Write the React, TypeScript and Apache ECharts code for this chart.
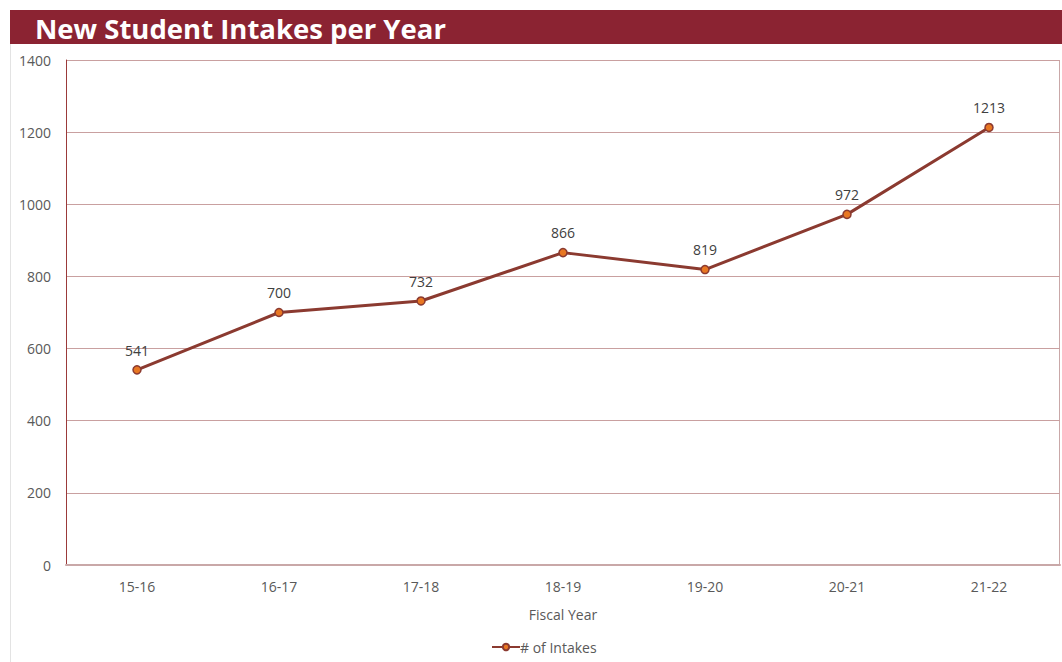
import React, { useEffect, useRef } from "react";
import * as echarts from "echarts";

const categories = ["15-16", "16-17", "17-18", "18-19", "19-20", "20-21", "21-22"];
const intakes = [541, 700, 732, 866, 819, 972, 1213];
const seriesName = "# of Intakes";
const titleText = "New Student Intakes per Year";
const xAxisName = "Fiscal Year";

export default function App() {
  const ref = useRef<HTMLDivElement>(null);
  useEffect(() => {
    const chart = echarts.init(ref.current!, null, { renderer: "svg" });
    const font = "'Open Sans', 'Noto Sans', sans-serif";
    chart.setOption({
      animation: false,
      backgroundColor: "#ffffff",
      textStyle: { fontFamily: font },
      graphic: [
        {
          type: "rect",
          shape: { x: 10, y: 10, width: 1052, height: 34 },
          style: { fill: "#8B2332" },
          z: 0,
        },
        {
          type: "text",
          x: 35,
          y: 28,
          style: {
            text: titleText,
            fill: "#ffffff",
            font: `bold 27.5px ${font}`,
            verticalAlign: "middle",
          },
          z: 1,
        },
        {
          type: "line",
          shape: { x1: 10.5, y1: 44, x2: 10.5, y2: 662 },
          style: { stroke: "#e3e3e3", lineWidth: 1 },
        },
        {
          type: "line",
          shape: { x1: 66, y1: 60.5, x2: 1060, y2: 60.5 },
          style: { stroke: "#9b3a3a", lineWidth: 1 },
        },
        {
          type: "line",
          shape: { x1: 1059.5, y1: 60, x2: 1059.5, y2: 565 },
          style: { stroke: "#c9a8a8", lineWidth: 1 },
        },
      ],
      grid: { left: 66, right: 2, top: 60, bottom: 97, containLabel: false },
      legend: {
        bottom: 3,
        left: 486,
        data: [seriesName],
        itemWidth: 28,
        itemHeight: 8,
        itemGap: 2,
        textStyle: { color: "#595959", fontSize: 14, fontFamily: font, padding: [0, 0, 0, -5] },
      },
      xAxis: {
        type: "category",
        data: categories,
        boundaryGap: true,
        name: xAxisName,
        nameLocation: "middle",
        nameGap: 42,
        nameTextStyle: { color: "#595959", fontSize: 14, fontFamily: font },
        axisLine: { lineStyle: { color: "#c9a8a8", width: 2 } },
        axisTick: { show: false },
        axisLabel: { color: "#595959", fontSize: 14, margin: 14, fontFamily: font },
      },
      yAxis: {
        type: "value",
        min: 0,
        max: 1400,
        interval: 200,
        axisLine: { show: true, lineStyle: { color: "#9b3a3a", width: 1 } },
        axisTick: { show: false },
        axisLabel: {
          color: "#595959",
          fontSize: 14,
          margin: 15,
          fontFamily: font,
          formatter: (v: number) => String(v),
        },
        splitLine: { lineStyle: { color: "#c9a0a0", width: 1 } },
      },
      series: [
        {
          name: seriesName,
          type: "line",
          data: intakes,
          symbol: "circle",
          symbolSize: 8,
          lineStyle: { color: "#8B3A30", width: 3 },
          itemStyle: { color: "#E87722", borderColor: "#8B3A30", borderWidth: 1.5 },
          label: {
            show: true,
            position: "top",
            distance: 8,
            color: "#404040",
            fontSize: 14,
            fontFamily: font,
          },
        },
      ],
    });
    return () => chart.dispose();
  }, []);
  return <div ref={ref} style={{ width: 1062, height: 662, position: "absolute", left: 0, top: 0 }} />;
}
